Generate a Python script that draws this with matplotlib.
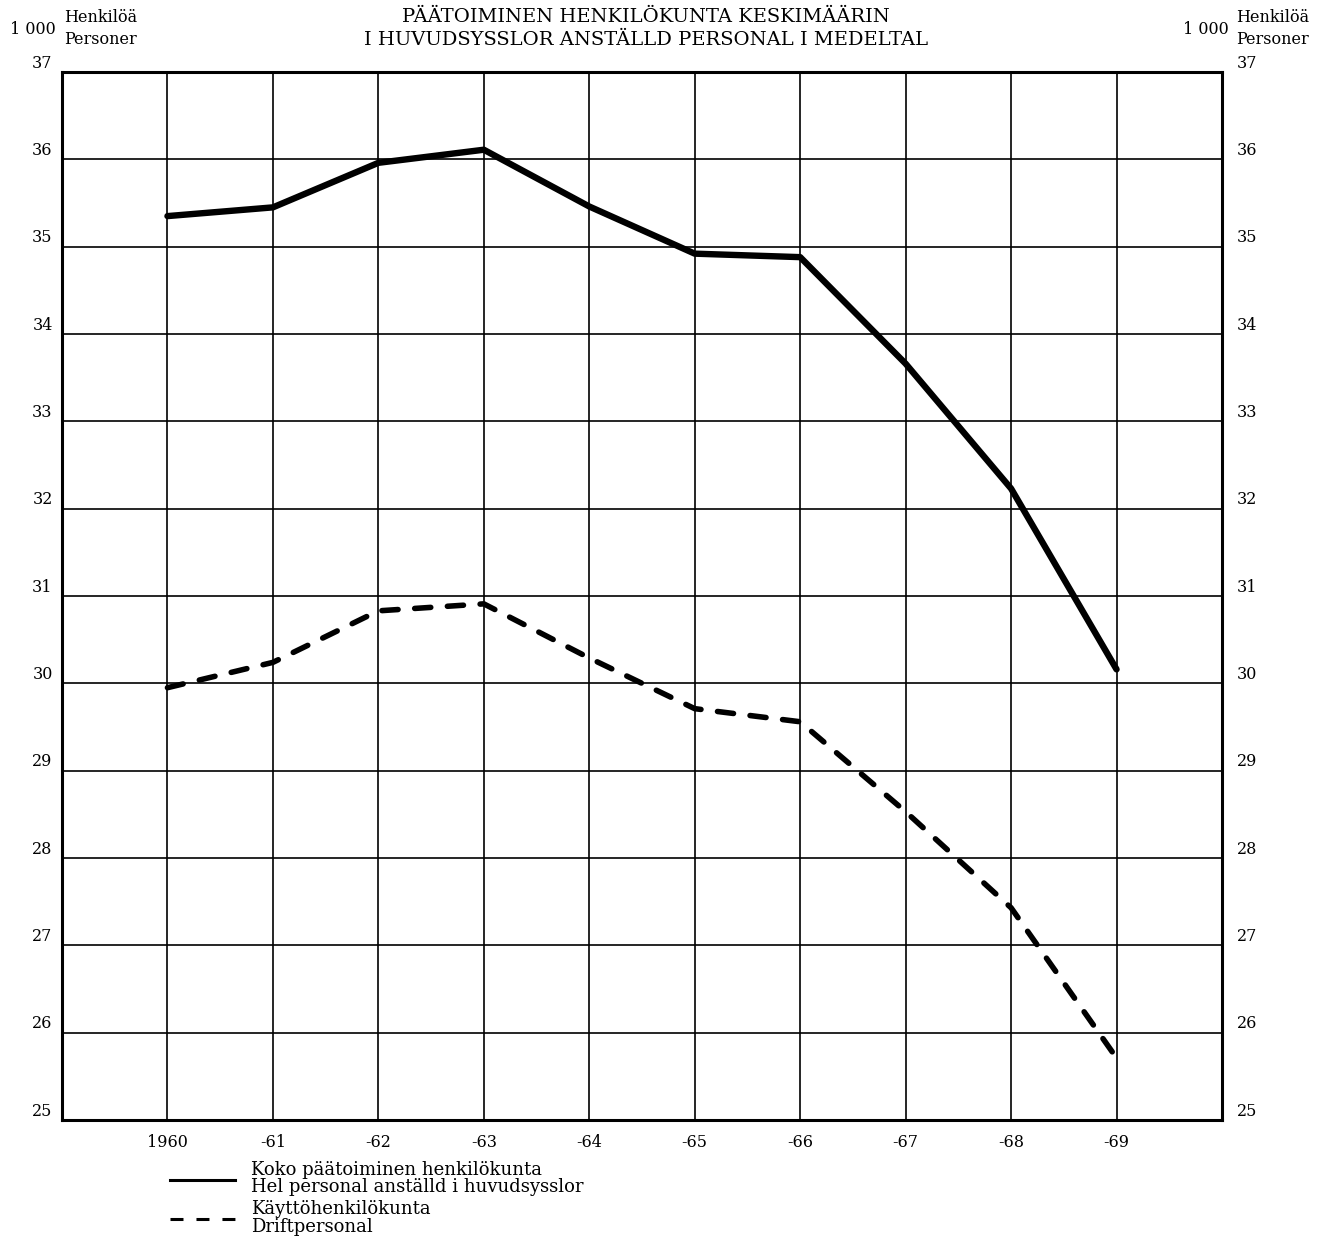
import matplotlib
matplotlib.use('Agg')
import matplotlib.pyplot as plt
import matplotlib.transforms as mtransforms
from matplotlib.lines import Line2D

# values in 1000 persons
years = [1960, 1961, 1962, 1963, 1964, 1965, 1966, 1967, 1968, 1969]
year_labels = ['1960', '-61', '-62', '-63', '-64', '-65', '-66', '-67', '-68', '-69']
total_staff = [35.35, 35.45, 35.96, 36.11, 35.46, 34.92, 34.88, 33.66, 32.23, 30.16]
operating_staff = [29.95, 30.24, 30.83, 30.91, 30.29, 29.71, 29.56, 28.53, 27.43, 25.71]
y_ticks = list(range(25, 38))

title_fi = 'PÄÄTOIMINEN HENKILÖKUNTA KESKIMÄÄRIN'
title_sv = 'I HUVUDSYSSLOR ANSTÄLLD PERSONAL I MEDELTAL'
legend_total = ['Koko päätoiminen henkilökunta', 'Hel personal anställd i huvudsysslor']
legend_oper = ['Käyttöhenkilökunta', 'Driftpersonal']

plt.rcParams['font.family'] = ['DejaVu Serif']

W, H = 1336, 1239
fig = plt.figure(figsize=(W / 100, H / 100), dpi=100)


def px(x, y):
    return x / W, 1 - y / H


l, b = px(62, 1120)
r, t = px(1222, 72)
ax = fig.add_axes([l, b, r - l, t - b])

ax.plot(years, total_staff, color='black', lw=4.6, solid_capstyle='round',
        solid_joinstyle='round', zorder=3)
ax.plot(years, operating_staff, color='black', lw=4.0, dashes=(2.9, 3.0),
        dash_capstyle='round', zorder=3)

ax.set_xlim(1959, 1970)
ax.set_ylim(25, 37)
ax.set_xticks(years)
ax.set_xticklabels(year_labels)
ax.set_yticks(y_ticks)
ax.set_yticklabels([])
ax.grid(True, color='black', lw=1.2)
ax.set_axisbelow(True)
for s in ax.spines.values():
    s.set_linewidth(2.2)
ax.tick_params(axis='both', length=0, labelsize=11.5, colors='black')
ax.tick_params(axis='x', pad=10)

# y labels sit a bit above their grid line, on both sides
up = mtransforms.ScaledTranslation(0, 9 / 100, fig.dpi_scale_trans)
ytr = ax.get_yaxis_transform() + up
for v in y_ticks:
    ax.text(-0.008, v, str(v), ha='right', va='center', fontsize=11.5, transform=ytr)
    ax.text(1.013, v, str(v), ha='left', va='center', fontsize=11.5, transform=ytr)

# header texts
fig.text(*px(646, 17), title_fi, ha='center', va='center', fontsize=14)
fig.text(*px(646, 40), title_sv, ha='center', va='center', fontsize=14)
fig.text(*px(56, 30), '1 000', ha='right', va='center', fontsize=11.5)
fig.text(*px(64, 18), 'Henkilöä', ha='left', va='center', fontsize=11.5)
fig.text(*px(64, 40), 'Personer', ha='left', va='center', fontsize=11.5)
fig.text(*px(1229, 30), '1 000', ha='right', va='center', fontsize=11.5)
fig.text(*px(1236, 18), 'Henkilöä', ha='left', va='center', fontsize=11.5)
fig.text(*px(1236, 40), 'Personer', ha='left', va='center', fontsize=11.5)

# legend drawn by hand, as in the print
x0, x1 = px(170, 0)[0], px(235, 0)[0]
y_solid = px(0, 1180)[1]
y_dash = px(0, 1219)[1]
fig.add_artist(Line2D([x0, x1], [y_solid, y_solid], color='black', lw=2.2))
fig.add_artist(Line2D([x0, x1], [y_dash, y_dash], color='black', lw=2.2,
                      dashes=(4.25, 4.25)))
fig.text(*px(251, 1170), legend_total[0], ha='left', va='center', fontsize=13)
fig.text(*px(251, 1187), legend_total[1], ha='left', va='center', fontsize=13)
fig.text(*px(251, 1209), legend_oper[0], ha='left', va='center', fontsize=13)
fig.text(*px(251, 1227), legend_oper[1], ha='left', va='center', fontsize=13)

fig.savefig('out.png', dpi=100)
